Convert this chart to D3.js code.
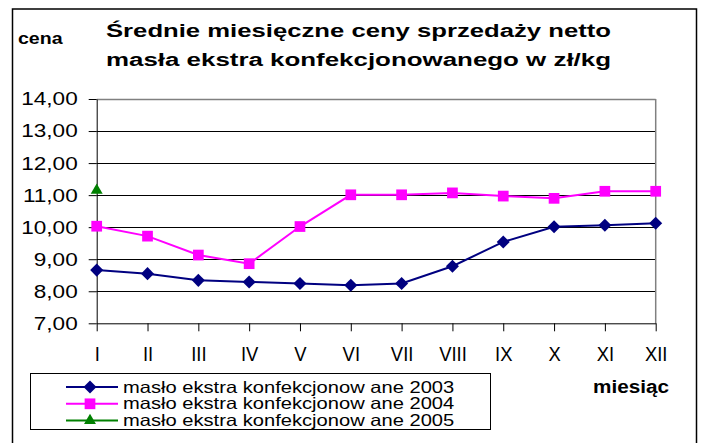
<!DOCTYPE html>
<html>
<head>
<meta charset="utf-8">
<script src="https://cdn.jsdelivr.net/npm/d3@7"></script>
<style>
  body { margin: 0; background: #fff; }
  svg { display: block; }
  text { font-family: "Liberation Sans", Arial, sans-serif; fill: #000; }
</style>
</head>
<body>
<div id="chart"></div>
<script>
const months = ["I", "II", "III", "IV", "V", "VI", "VII", "VIII", "IX", "X", "XI", "XII"];
const yTicks = [7, 8, 9, 10, 11, 12, 13, 14];
const values2003 = [8.66, 8.55, 8.34, 8.29, 8.24, 8.19, 8.24, 8.78, 9.54, 10.01, 10.06, 10.12];
const values2004 = [10.03, 9.72, 9.13, 8.86, 10.02, 11.01, 11.01, 11.07, 10.97, 10.90, 11.12, 11.12];
const values2005 = [11.15];
const seriesNames = [
  "masło ekstra konfekcjonow ane 2003",
  "masło ekstra konfekcjonow ane 2004",
  "masło ekstra konfekcjonow ane 2005"
];
const titleLines = ["Średnie miesięczne ceny sprzedaży netto", "masła ekstra konfekcjonowanego w zł/kg"];

const series = [
  { name: seriesNames[0], values: values2003, color: "#000080", symbol: "diamond" },
  { name: seriesNames[1], values: values2004, color: "#ff00ff", symbol: "square" },
  { name: seriesNames[2], values: values2005, color: "#008000", symbol: "triangle" }
];

const W = 704, H = 443;
const margin = { top: 99, right: 48.3, bottom: 119.7, left: 96.7 };
const width = W - margin.left - margin.right;
const height = H - margin.top - margin.bottom;

// widen text like the original metafile rendering
const stretch = (sel, k) => sel.each(function () {
  const w = this.getComputedTextLength();
  d3.select(this).attr("textLength", w * k).attr("lengthAdjust", "spacingAndGlyphs");
});

const markerPath = (type) => {
  if (type === "diamond") return d3.symbol(d3.symbolSquare, 85)();
  if (type === "square") return d3.symbol(d3.symbolSquare, 115)();
  return d3.symbol(d3.symbolTriangle, 62)();
};
const markerRotate = type => type === "diamond" ? " rotate(45)" : "";

const svgRoot = d3.select("#chart")
  .append("svg")
  .attr("width", W)
  .attr("height", H);

// outer chart frame
svgRoot.append("rect")
  .attr("x", 12.5).attr("y", 9)
  .attr("width", 684).attr("height", 460)
  .attr("fill", "#fff")
  .attr("stroke", "#000")
  .attr("stroke-width", 1.5);

const svg = svgRoot.append("g")
  .attr("transform", `translate(${margin.left}, ${margin.top})`);

const xScale = d3.scalePoint().domain(months).range([0, width]);
const yScale = d3.scaleLinear().domain([7, 14]).range([height, 0]);

// gridlines
svg.append("g")
  .selectAll("line")
  .data(yTicks.filter(d => d > 7))
  .enter()
  .append("line")
  .attr("x1", 0)
  .attr("x2", width)
  .attr("y1", d => Math.round(yScale(d)) + 0.5)
  .attr("y2", d => Math.round(yScale(d)) + 0.5)
  .attr("stroke", d => d === 14 ? "#808080" : "#000")
  .attr("stroke-width", d => d === 14 ? 1.5 : 1);

// right plot border
svg.append("line")
  .attr("x1", width).attr("x2", width)
  .attr("y1", 0).attr("y2", height)
  .attr("stroke", "#808080")
  .attr("stroke-width", 1.5);

const fmt = d => d3.format(".2f")(d).replace(".", ",");

const yAxis = svg.append("g")
  .call(d3.axisLeft(yScale).tickValues(yTicks).tickFormat(fmt).tickSizeInner(8).tickSizeOuter(0).tickPadding(11));
yAxis.select(".domain").attr("stroke", "#000");
yAxis.selectAll("text")
  .attr("font-size", 18.5)
  .style("font-family", "\"Liberation Sans\", Arial, sans-serif")
  .call(stretch, 1.22);

const xAxis = svg.append("g")
  .attr("transform", `translate(0, ${height})`)
  .call(d3.axisBottom(xScale).tickSizeInner(8).tickSizeOuter(0).tickPadding(16));
xAxis.selectAll("text")
  .attr("font-size", 20)
  .style("font-family", "\"Liberation Sans\", Arial, sans-serif")
  .call(stretch, 0.92);

// series lines and markers
const line = d3.line()
  .x((d, i) => xScale(months[i]))
  .y(d => yScale(d));

series.forEach(s => {
  svg.append("path")
    .datum(s.values)
    .attr("fill", "none")
    .attr("stroke", s.color)
    .attr("stroke-width", 2)
    .attr("d", line);

  svg.selectAll(null)
    .data(s.values)
    .enter()
    .append("path")
    .attr("d", markerPath(s.symbol))
    .attr("fill", s.color)
    .attr("transform", (d, i) => `translate(${xScale(months[i])}, ${yScale(d)})${markerRotate(s.symbol)}`);
});

// titles
svgRoot.append("g")
  .selectAll("text")
  .data(titleLines)
  .enter()
  .append("text")
  .attr("x", 106)
  .attr("y", (d, i) => 37 + i * 29)
  .attr("font-size", 18)
  .attr("font-weight", "bold")
  .text(d => d)
  .attr("textLength", 505)
  .attr("lengthAdjust", "spacingAndGlyphs");

svgRoot.append("text")
  .attr("x", 18)
  .attr("y", 44)
  .attr("font-size", 17)
  .attr("font-weight", "bold")
  .text("cena")
  .call(stretch, 1.15);

svgRoot.append("text")
  .attr("x", 593)
  .attr("y", 393)
  .attr("font-size", 18)
  .attr("font-weight", "bold")
  .text("miesiąc")
  .call(stretch, 1.15);

// legend
const legend = svgRoot.append("g");
legend.append("rect")
  .attr("x", 30.5).attr("y", 373.5)
  .attr("width", 460).attr("height", 56)
  .attr("fill", "#fff")
  .attr("stroke", "#000");

const legendItem = legend.selectAll(".legendItem")
  .data(series)
  .enter()
  .append("g")
  .attr("class", "legendItem")
  .attr("transform", (d, i) => `translate(0, ${387 + i * 16.8})`);

legendItem.append("line")
  .attr("x1", 66).attr("x2", 118)
  .attr("y1", 0).attr("y2", 0)
  .attr("stroke", d => d.color)
  .attr("stroke-width", 2);

legendItem.append("path")
  .attr("d", d => markerPath(d.symbol))
  .attr("fill", d => d.color)
  .attr("transform", d => `translate(90, 0)${markerRotate(d.symbol)}`);

legendItem.append("text")
  .attr("x", 123)
  .attr("y", 5.5)
  .attr("font-size", 16.5)
  .text(d => d.name)
  .call(stretch, 1.22);
</script>
</body>
</html>
